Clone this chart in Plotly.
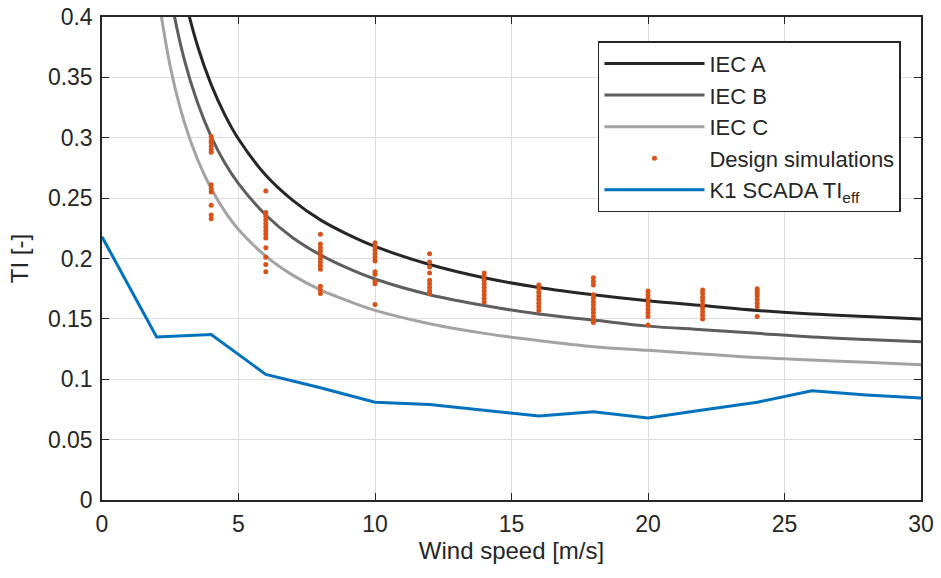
import plotly.graph_objects as go

# IEC NTM curves
v_iec = [2, 2.5, 3, 3.5, 4, 4.5, 5, 6, 7, 8, 9, 10, 12, 14, 16, 18, 20, 22, 24, 26, 28, 30]
iec_a = [0.568, 0.478, 0.419, 0.376, 0.344, 0.319, 0.299, 0.269, 0.248, 0.232, 0.220, 0.210,
         0.195, 0.184, 0.176, 0.170, 0.165, 0.161, 0.157, 0.154, 0.152, 0.150]
iec_b = [0.497, 0.419, 0.366, 0.329, 0.301, 0.279, 0.262, 0.236, 0.217, 0.203, 0.192, 0.183,
         0.170, 0.161, 0.154, 0.149, 0.144, 0.141, 0.138, 0.135, 0.133, 0.131]
iec_c = [0.426, 0.359, 0.314, 0.282, 0.258, 0.239, 0.224, 0.202, 0.186, 0.174, 0.165, 0.157,
         0.146, 0.138, 0.132, 0.127, 0.124, 0.121, 0.118, 0.116, 0.114, 0.112]

# Design simulations, per wind speed bin
design = {
    4: [0.301, 0.298, 0.296, 0.293, 0.290, 0.288, 0.261, 0.258, 0.255, 0.244, 0.236, 0.233],
    6: [0.256, 0.238, 0.235, 0.232, 0.229, 0.226, 0.223, 0.220, 0.217, 0.209, 0.201, 0.195, 0.189],
    8: [0.220, 0.212, 0.209, 0.206, 0.203, 0.200, 0.197, 0.194, 0.191, 0.177, 0.174, 0.171],
    10: [0.213, 0.210, 0.207, 0.204, 0.201, 0.198, 0.189, 0.187, 0.181, 0.179, 0.162],
    12: [0.204, 0.197, 0.193, 0.188, 0.182, 0.179, 0.176, 0.173, 0.171],
    14: [0.188, 0.185, 0.182, 0.179, 0.176, 0.173, 0.170, 0.167, 0.164],
    16: [0.178, 0.175, 0.172, 0.169, 0.166, 0.163, 0.160, 0.157],
    18: [0.184, 0.181, 0.178, 0.170, 0.167, 0.164, 0.161, 0.158, 0.155, 0.152, 0.149, 0.147],
    20: [0.173, 0.170, 0.167, 0.164, 0.161, 0.158, 0.155, 0.152, 0.145],
    22: [0.174, 0.171, 0.168, 0.165, 0.162, 0.159, 0.156, 0.153, 0.150],
    24: [0.175, 0.173, 0.171, 0.169, 0.166, 0.163, 0.160, 0.152],
}

# K1 SCADA effective TI
v_scada = [0, 2, 4, 6, 8, 10, 12, 14, 16, 18, 20, 22, 24, 26, 28, 30]
ti_scada = [0.218, 0.135, 0.137, 0.104, 0.093, 0.081, 0.079, 0.0745, 0.0695, 0.073, 0.068,
            0.0745, 0.081, 0.0905, 0.087, 0.0845]

x_ticks = [0, 5, 10, 15, 20, 25, 30]
y_ticks = [0, 0.05, 0.1, 0.15, 0.2, 0.25, 0.3, 0.35, 0.4]
y_tick_labels = ["0", "0.05", "0.1", "0.15", "0.2", "0.25", "0.3", "0.35", "0.4"]

dx, dy = [], []
for ws, vals in design.items():
    dx += [ws] * len(vals)
    dy += vals

fig = go.Figure()
fig.add_trace(go.Scatter(x=v_iec, y=iec_a, mode="lines", name="IEC A",
                         line=dict(color="#262626", width=3, shape="spline")))
fig.add_trace(go.Scatter(x=v_iec, y=iec_b, mode="lines", name="IEC B",
                         line=dict(color="#5e5e5e", width=3, shape="spline")))
fig.add_trace(go.Scatter(x=v_iec, y=iec_c, mode="lines", name="IEC C",
                         line=dict(color="#a3a3a3", width=3, shape="spline")))
fig.add_trace(go.Scatter(x=dx, y=dy, mode="markers", name="Design simulations",
                         marker=dict(color="#D95319", size=5)))
fig.add_trace(go.Scatter(x=v_scada, y=ti_scada, mode="lines", name="K1 SCADA TI<sub>eff</sub>",
                         line=dict(color="#0072BD", width=3)))

axis_common = dict(
    showline=True, linecolor="#262626", linewidth=1.5, mirror="ticks",
    ticks="inside", ticklen=7, tickcolor="#262626",
    showgrid=True, gridcolor="#dedede", gridwidth=1,
    zeroline=False, ticklabeloverflow="allow", automargin=False,
    tickfont=dict(size=23, color="#262626"),
)

fig.update_layout(
    width=941, height=578,
    margin=dict(l=102, r=20, t=17, b=78),
    paper_bgcolor="white", plot_bgcolor="white",
    font=dict(family="Liberation Sans, Arial, sans-serif", color="#262626", size=23),
    xaxis=dict(range=[0, 30], tickvals=x_ticks, ticklabelstandoff=3,
               title=dict(text="Wind speed [m/s]", font=dict(size=24), standoff=5),
               **axis_common),
    yaxis=dict(range=[0, 0.4], tickvals=y_ticks, ticktext=y_tick_labels, ticklabelstandoff=3,
               title=dict(text="TI [-]", font=dict(size=24), standoff=12),
               **axis_common),
    legend=dict(x=0.6056, y=0.950, xanchor="left", yanchor="top",
                bgcolor="white", bordercolor="#262626", borderwidth=1.5,
                font=dict(size=22, color="#262626"),
                itemwidth=100,
                tracegroupgap=0),
    showlegend=True,
)

fig.write_html("out.html", config={"displayModeBar": False},
               post_script="document.body.style.margin='0px';")
